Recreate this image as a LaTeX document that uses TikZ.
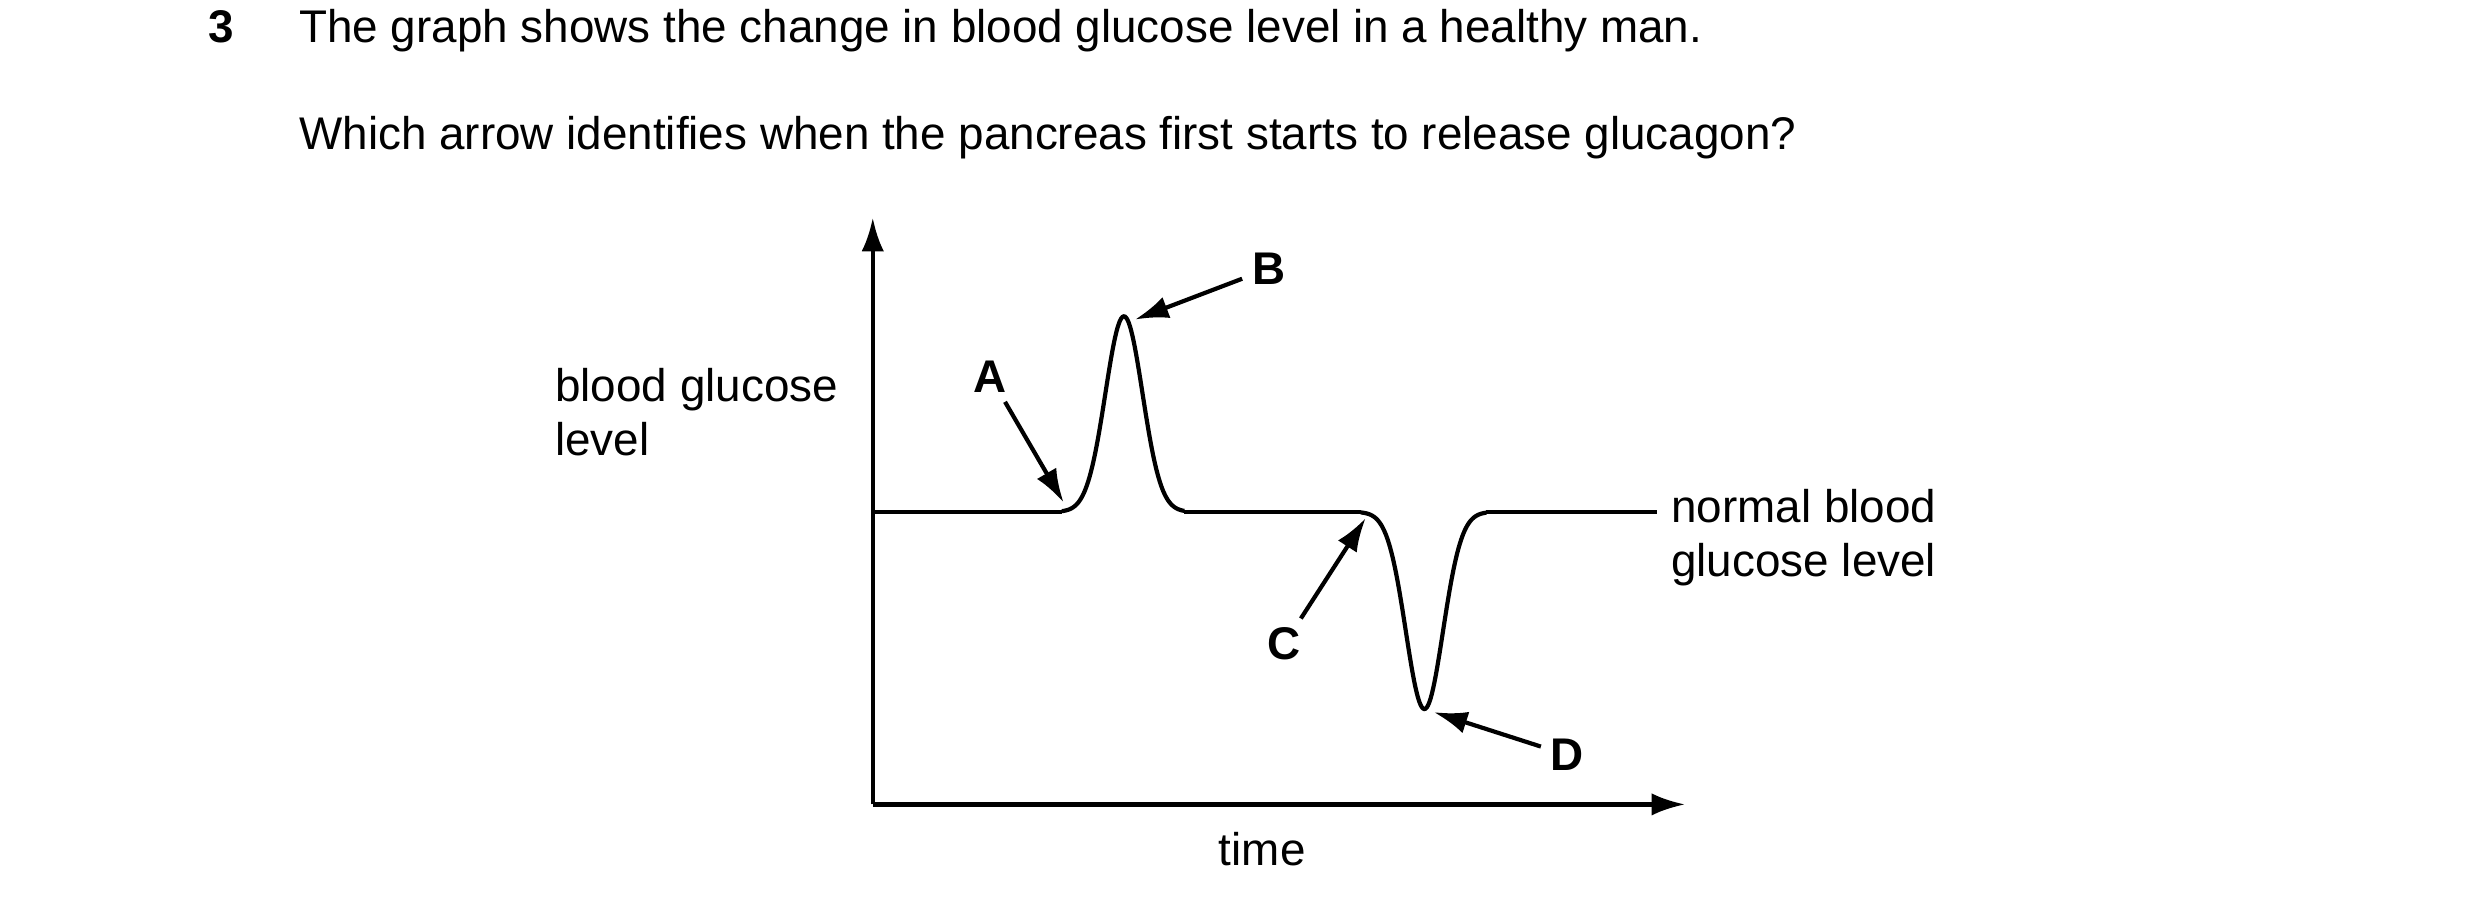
\documentclass[tikz,border=0pt]{standalone}
\usepackage{fontspec}
\setmainfont{Liberation Sans}
\usetikzlibrary{arrows.meta}

\begin{document}
\begin{tikzpicture}[x=0.02cm,y=-0.02cm,every path/.style={line width=1.5pt},
    txt/.style={inner sep=0pt,font=\fontsize{16.4}{19.3}\selectfont},
    lbl/.style={txt,font=\fontsize{16.4}{19.3}\selectfont\bfseries},
    pointer/.style={-{Latex[length=12pt,width=8pt]},shorten <=3pt}]
  \useasboundingbox (0,0) rectangle (1560,567);
  % question text
  \node[lbl,anchor=base west] (num) at (130,27) {3};
  \node[txt,anchor=base west] (q1) at (187,27) {The graph shows the change in blood glucose level in a healthy man.};
  \node[txt,anchor=base west] (q2) at (187,94) {Which arrow identifies when the pancreas first starts to release glucagon?};
  % axes
  \coordinate (O) at (549,506);
  \coordinate (ytop) at (549,137);
  \coordinate (xend) at (1060,506);
  \draw[-{Latex[length=12pt,width=8pt]}] (O) -- (ytop);
  \draw[-{Latex[length=12pt,width=8pt]}] (O) -- (xend);
  \node[txt,anchor=north] (time) at (794,522) {time};
  \node[txt,anchor=west,align=left] (ylab) at (348,259) {blood glucose\\level};
  \node[txt,anchor=west,align=left] (normal) at (1050,338) {normal blood\\glucose level};
  % glucose curve
  \draw (549,322) -- (668,322);
  \draw plot[domain=668:745,samples=100] (\x,{322-123*exp(-((\x-707)/16.5)^2)});
  \draw (745,322) -- (856,322);
  \draw plot[domain=856:935,samples=100] (\x,{322+124*exp(-((\x-896)/16.5)^2)});
  \draw (935,322) -- (1042,322);
  % pointers
  \coordinate (tipA) at (669,316);
  \coordinate (tipB) at (714,201);
  \coordinate (tipC) at (859,326);
  \coordinate (tipD) at (902,448);
  \node[lbl] (A) at (623,237) {A};
  \node[lbl] (B) at (798,169) {B};
  \node[lbl] (C) at (808,405) {C};
  \node[lbl] (D) at (986,475) {D};
  \draw[pointer] (A) -- (tipA);
  \draw[pointer] (B) -- (tipB);
  \draw[pointer] (C) -- (tipC);
  \draw[pointer] (D) -- (tipD);
\end{tikzpicture}
\end{document}
